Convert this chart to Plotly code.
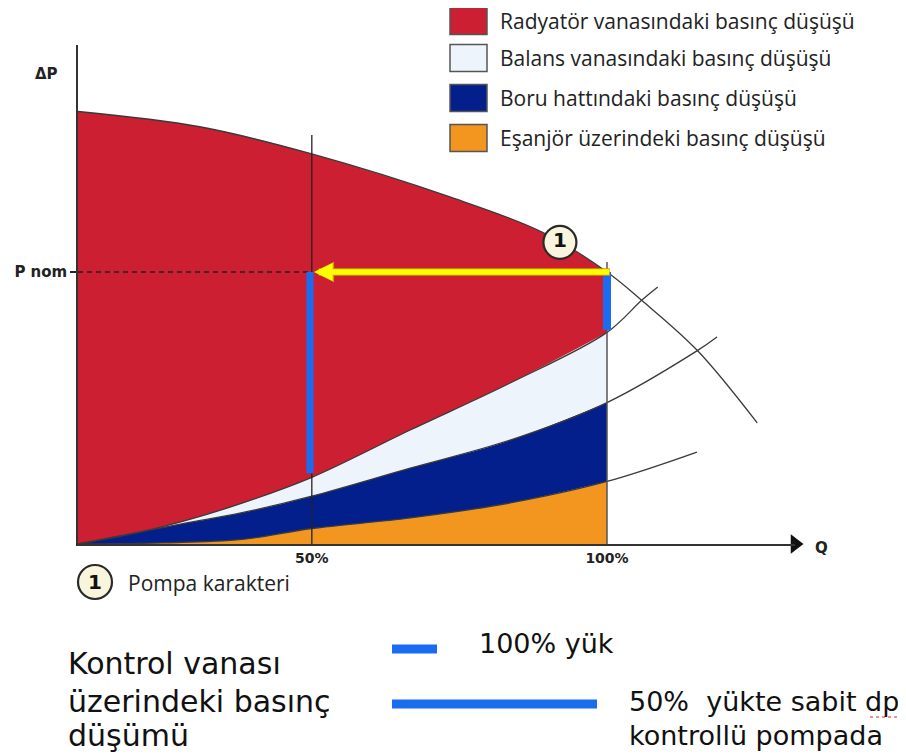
import plotly.graph_objects as go

# ---------------- data ----------------
# Q: flow, 100 = nominal flow (100% mark); P: differential pressure, P nom = 100
q_pump = [0, 23, 44.2, 70.3, 87.7, 100, 106.6, 117, 128.4]
p_pump = [159, 153.4, 143.4, 127.6, 114.7, 100, 89.5, 71.3, 44.5]

q_sys_total = [0, 12, 19.6, 31, 44.2, 62.8, 81.7, 100, 106.6, 109.6]
p_sys_total = [0, 4.5, 8.2, 15, 24.5, 41.9, 59.2, 77.8, 89.7, 94.5]

q_sys_pipe = [0, 19.6, 31, 44.2, 62.8, 81.7, 100, 117, 120.8]
p_sys_pipe = [0, 7.4, 11.5, 17.6, 27.9, 38.2, 52, 71, 76.1]

q_hex = [0, 15.8, 31, 44.2, 62.8, 81.7, 100, 117]
p_hex = [0, 0.4, 1.7, 5.7, 9.6, 15.1, 23, 33.8]

q_half = 44.2          # position of the 50% mark
q_full = 100           # position of the 100% mark
p_nom = 100
half_line_top = 150.4
full_line_top = 103.7
valve_bottom_half = 26
valve_bottom_full = 78.7
pump_label_pos = (91.1, 110.9)

x_ticks = [q_half, q_full]
x_tick_labels = ["50%", "100%"]
y_ticks = [p_nom]
y_tick_labels = ["P nom"]

legend_names = [
    "Radyatör vanasındaki basınç düşüşü",
    "Balans vanasındaki basınç düşüşü",
    "Boru hattındaki basınç düşüşü",
    "Eşanjör üzerindeki basınç düşüşü",
]

# ---------------- style ----------------
RED = "#cc1f31"
LIGHT = "#eef4fb"
NAVY = "#031f8c"
ORANGE = "#f2961f"
BLUE = "#1a6cf3"
YELLOW = "#ffff00"
legend_colors = [RED, LIGHT, NAVY, ORANGE]

OFF = 8                       # page body margin
W, H = 906 - OFF, 755 - OFF
X0, X1 = 78, 795              # pixel extent of the axes (page pixels)
Y0, Y1 = 544, 45
XS, YS = 5.29, 2.72           # pixels per unit


def px(x):
    return (x - OFF) / W


def py(y):
    return 1 - (y - OFF) / H


def upto(qs, ps, lim):
    pairs = [(q, p) for q, p in zip(qs, ps) if q <= lim]
    return [a for a, _ in pairs], [b for _, b in pairs]


fig = go.Figure()
SPL = dict(shape="spline", smoothing=1.0)

# stacked areas
qh, ph = upto(q_hex, p_hex, q_full)
qp, pp = upto(q_sys_pipe, p_sys_pipe, q_full)
qt, pt = upto(q_sys_total, p_sys_total, q_full)
qu, pu = upto(q_pump, p_pump, q_full)
for xs, ys, col, fill in [
    (qh, ph, ORANGE, "tozeroy"),
    (qp, pp, NAVY, "tonexty"),
    (qt, pt, LIGHT, "tonexty"),
    (qu, pu, RED, "tonexty"),
]:
    fig.add_trace(go.Scatter(x=xs, y=ys, mode="lines", fill=fill, fillcolor=col,
                             line=dict(width=0, **SPL),
                             hoverinfo="skip", showlegend=False))

# curve outlines (pump + system curves) including extensions
for xs, ys in [(q_pump, p_pump), (q_sys_total, p_sys_total),
               (q_sys_pipe, p_sys_pipe), (q_hex, p_hex)]:
    fig.add_trace(go.Scatter(x=xs, y=ys, mode="lines",
                             line=dict(color="#3a3a3a", width=1.3, **SPL),
                             hoverinfo="skip", showlegend=False))

# vertical load lines
fig.add_trace(go.Scatter(x=[q_half, q_half], y=[0, half_line_top], mode="lines",
                         line=dict(color="#222222", width=1.3), hoverinfo="skip", showlegend=False))
fig.add_trace(go.Scatter(x=[q_full, q_full], y=[0, full_line_top], mode="lines",
                         line=dict(color="#555555", width=1.5), hoverinfo="skip", showlegend=False))

# dashed P nom line
fig.add_trace(go.Scatter(x=[0, q_half], y=[p_nom, p_nom], mode="lines",
                         line=dict(color="#222222", width=1.6, dash="5px,4px"),
                         hoverinfo="skip", showlegend=False))

# control valve pressure drop bars
fig.add_trace(go.Scatter(x=[q_half - 0.35, q_half - 0.35], y=[p_nom, valve_bottom_half], mode="lines",
                         line=dict(color=BLUE, width=7), hoverinfo="skip", showlegend=False))
fig.add_trace(go.Scatter(x=[q_full, q_full], y=[p_nom, valve_bottom_full], mode="lines",
                         line=dict(color=BLUE, width=8), hoverinfo="skip", showlegend=False))

# pump characteristic label "1"
fig.add_trace(go.Scatter(x=[pump_label_pos[0]], y=[pump_label_pos[1]], mode="markers+text",
                         marker=dict(size=33, color="#f8f5dc", line=dict(color="#2a2a2a", width=2.2)),
                         text=["<b>1</b>"], textposition="middle center",
                         textfont=dict(family="DejaVu Sans", size=20, color="#111111"),
                         cliponaxis=False, hoverinfo="skip", showlegend=False))

# axis arrowheads
fig.add_trace(go.Scatter(x=[0], y=[(Y0 - 43.5) / YS], mode="markers",
                         marker=dict(symbol="triangle-up", size=17, color="#111111"),
                         cliponaxis=False, hoverinfo="skip", showlegend=False))
fig.add_trace(go.Scatter(x=[(795 - X0) / XS], y=[0], mode="markers",
                         marker=dict(symbol="triangle-right", size=17, color="#111111"),
                         cliponaxis=False, hoverinfo="skip", showlegend=False))

annotations = []
# yellow arrow (underlay for outline, then yellow)
annotations.append(dict(x=q_half + 0.3, y=p_nom, ax=q_full + 0.8, ay=p_nom, xref="x", yref="y",
                        axref="x", ayref="y", text="", showarrow=True, arrowhead=2,
                        arrowwidth=7.5, arrowsize=0.55, arrowcolor="#c9a400"))
annotations.append(dict(x=q_half + 0.5, y=p_nom, ax=q_full + 0.7, ay=p_nom, xref="x", yref="y",
                        axref="x", ayref="y", text="", showarrow=True, arrowhead=2,
                        arrowwidth=5.5, arrowsize=0.66, arrowcolor=YELLOW))


def label(x, y, text, font, xanchor="center"):
    annotations.append(dict(x=px(x), y=py(y), xref="paper", yref="paper", text=text,
                            xanchor=xanchor, yanchor="middle", showarrow=False, font=font))


bold_axis = dict(family="DejaVu Sans", size=15, color="#222222")
label(46, 74, "<b>\u0394P</b>", bold_axis)
label(821, 548, "<b>Q</b>", bold_axis)

# legend
legend_rows = [21, 58, 98, 138]
shapes = []
leg_font = dict(family="Open Sans", size=21, color="#222222")
for name, col, yc in zip(legend_names, legend_colors, legend_rows):
    shapes.append(dict(type="rect", xref="paper", yref="paper", x0=px(450), x1=px(487),
                       y0=py(yc - 13.5), y1=py(yc + 13.5), fillcolor=col,
                       line=dict(color="#555555", width=1.5)))
    label(498, yc, name, leg_font, "left")

# bottom note: pump characteristic
shapes.append(dict(type="circle", xref="paper", yref="paper", x0=px(78), x1=px(112),
                   y0=py(565), y1=py(599), fillcolor="#f8f5dc", line=dict(color="#2a2a2a", width=2.2)))
label(95, 582, "<b>1</b>", dict(family="DejaVu Sans", size=20, color="#111111"))
label(126, 583, "Pompa karakteri", dict(family="Open Sans", size=21, color="#222222"), "left")

# bottom legend for control valve pressure drop
big = dict(family="DejaVu Sans", size=30, color="#111111")
for txt, yc in [("Kontrol vanası", 663), ("üzerindeki basınç", 701), ("düşümü", 735)]:
    label(66, yc, txt, big, "left")
shapes.append(dict(type="line", xref="paper", yref="paper", x0=px(392), x1=px(437),
                   y0=py(649), y1=py(649), line=dict(color=BLUE, width=9)))
shapes.append(dict(type="line", xref="paper", yref="paper", x0=px(392), x1=px(597),
                   y0=py(704), y1=py(704), line=dict(color=BLUE, width=9)))
mid = dict(family="DejaVu Sans", size=27, color="#111111")
label(477, 643, "100% yük", mid, "left")
label(627, 701, "50%\u00a0 yükte sabit dp", mid, "left")
label(627, 735, "kontrollü pompada", mid, "left")
shapes.append(dict(type="line", xref="paper", yref="paper", x0=px(870), x1=px(903),
                   y0=py(717), y1=py(717), line=dict(color="#e02020", width=1, dash="dot")))

fig.update_layout(
    width=W, height=H,
    margin=dict(l=0, r=0, t=0, b=0),
    paper_bgcolor="white", plot_bgcolor="rgba(0,0,0,0)",
    xaxis=dict(domain=[px(X0), px(X1)], range=[0, (X1 - X0) / XS], showgrid=False, zeroline=False,
               showline=True, linecolor="#333333", linewidth=1.5,
               tickvals=x_ticks, ticktext=[f"<b>{t}</b>" for t in x_tick_labels], ticks="",
               tickfont=dict(family="DejaVu Sans", size=14, color="#222222")),
    yaxis=dict(domain=[py(Y0), py(Y1)], range=[0, (Y0 - Y1) / YS], showgrid=False, zeroline=False,
               showline=True, linecolor="#333333", linewidth=1.5,
               tickvals=y_ticks, ticktext=[f"<b>{t}</b>" for t in y_tick_labels],
               ticks="outside", ticklen=6, tickcolor="#222222", tickwidth=1.5,
               tickfont=dict(family="DejaVu Sans", size=15, color="#222222")),
    shapes=shapes,
    annotations=annotations,
)

fig.write_html("out.html")
